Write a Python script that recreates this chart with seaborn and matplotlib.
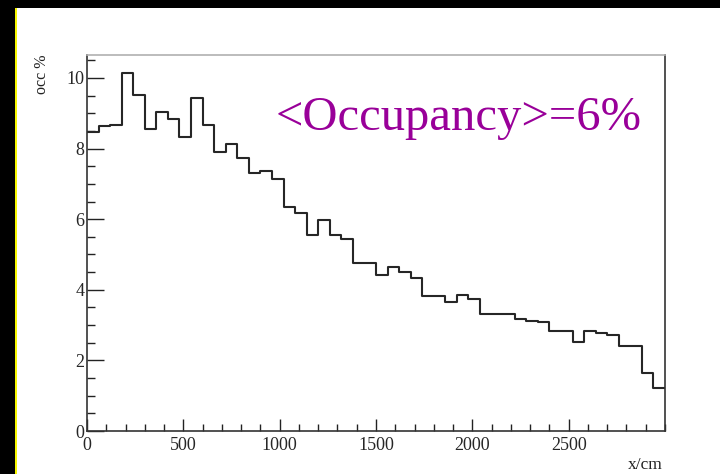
import numpy as np
import pandas as pd
import matplotlib
matplotlib.use("Agg")
import matplotlib.pyplot as plt
from matplotlib.patches import Rectangle
from matplotlib.ticker import MultipleLocator
import seaborn as sns

# ---- data (occupancy per 60 cm bin) ----
bin_width = 60
n_bins = 50
occupancy = [8.48, 8.64, 8.68, 10.14, 9.53, 8.56, 9.03, 8.83, 8.33, 9.44,
             8.67, 7.91, 8.14, 7.72, 7.32, 7.37, 7.15, 6.35, 6.18, 5.55,
             5.97, 5.55, 5.43, 4.75, 4.75, 4.42, 4.65, 4.51, 4.34, 3.81,
             3.82, 3.66, 3.85, 3.74, 3.31, 3.31, 3.31, 3.16, 3.12, 3.10,
             2.83, 2.82, 2.51, 2.82, 2.78, 2.72, 2.41, 2.41, 1.63, 1.21]
x_ticks = [0, 500, 1000, 1500, 2000, 2500]
y_ticks = [0, 2, 4, 6, 8, 10]
annotation = "<Occupancy>=6%"
x_title = "x/cm"
y_title = "occ %"

x_max = n_bins * bin_width
centers = np.arange(n_bins) * bin_width + bin_width / 2
df = pd.DataFrame({"x": centers, "occ": occupancy})

sns.set_style("ticks")
plt.rcParams["font.family"] = ["Liberation Serif", "DejaVu Serif"]

W, H = 720, 474
fig = plt.figure(figsize=(W / 100, H / 100), dpi=100)
fig.patch.set_facecolor("white")

# border decorations of the original screenshot
fig.patches.append(Rectangle((0, 0), 15 / W, 1, transform=fig.transFigure,
                             facecolor="black", edgecolor="none", zorder=0))
fig.patches.append(Rectangle((15 / W, 0), 2 / W, 1 - 8 / H, transform=fig.transFigure,
                             facecolor="#f5f500", edgecolor="none", zorder=0))
fig.patches.append(Rectangle((0, 1 - 8 / H), 1, 8 / H, transform=fig.transFigure,
                             facecolor="black", edgecolor="none", zorder=0))

ax = fig.add_axes([87 / W, 1 - 431 / H, (665 - 87) / W, (431 - 55) / H])
sns.histplot(data=df, x="x", weights="occ", binwidth=bin_width,
             binrange=(0, x_max), element="step",
             fill=False, color="#262626", linewidth=1.5, ax=ax)

ax.set_xlim(0, x_max)
ax.set_ylim(0, 10.65)
ax.set_xticks(x_ticks)
ax.set_yticks(y_ticks)
ax.xaxis.set_minor_locator(MultipleLocator(100))
ax.yaxis.set_minor_locator(MultipleLocator(0.5))
ax.tick_params(axis="x", which="major", direction="in", length=8.5, width=1,
               color="#222222", labelsize=13, pad=4)
ax.tick_params(axis="x", which="minor", direction="in", length=5, width=1,
               color="#222222")
ax.tick_params(axis="y", which="major", direction="in", length=12, width=1,
               color="#222222", labelsize=13, pad=2)
ax.tick_params(axis="y", which="minor", direction="in", length=6, width=1,
               color="#222222")

for side in ["left", "bottom", "right"]:
    ax.spines[side].set_color("#333333")
    ax.spines[side].set_linewidth(1.2)
ax.spines["top"].set_color("#b0b0b0")
ax.spines["top"].set_linewidth(1.2)

ax.set_xlabel("")
ax.set_ylabel("")
fig.text(663 / W, 1 - 465 / H, x_title, ha="right", va="center", fontsize=12.5,
         color="#222222")
fig.text(42 / W, 1 - 55 / H, y_title, ha="center", va="top", rotation=90,
         fontsize=11.5, color="#222222")

ax.text(0.327, 0.80, annotation, transform=ax.transAxes, ha="left",
        va="baseline", fontsize=35, color="#990099")

fig.savefig("out.png", dpi=100, facecolor=fig.get_facecolor())
